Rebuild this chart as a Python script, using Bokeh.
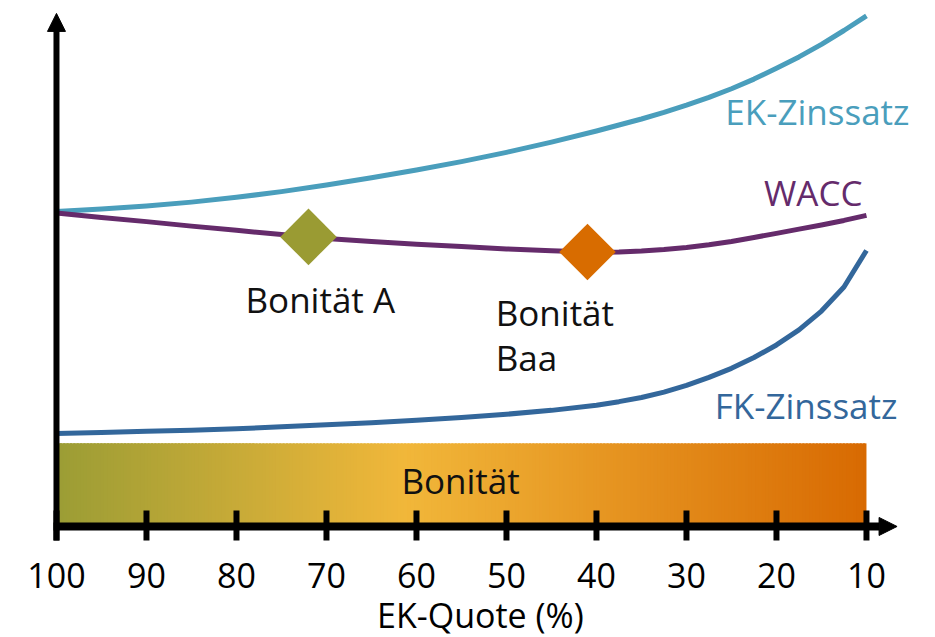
import numpy as np
from bokeh.plotting import figure
from bokeh.models import Range1d, Arrow, NormalHead
from bokeh.core.properties import value
from bokeh.embed import file_html
from bokeh.resources import INLINE

# ---------------- data ----------------
ek_quote = [100, 95, 90, 85, 80, 75, 70, 65, 60, 55, 50, 45, 40, 37.5, 35, 32.5, 30,
            27.5, 25, 22.5, 20, 17.5, 15, 12.5, 10]
ek_zinssatz = [10.5, 10.58, 10.68, 10.81, 10.97, 11.16, 11.38, 11.62, 11.88, 12.16, 12.47, 12.81,
               13.18, 13.38, 13.58, 13.8, 14.04, 14.3, 14.59, 14.91, 15.27, 15.65, 16.07, 16.53, 17.02]
wacc = [10.45, 10.3, 10.16, 10.01, 9.87, 9.73, 9.6, 9.5, 9.41, 9.33, 9.25, 9.19,
        9.14, 9.15, 9.18, 9.23, 9.3, 9.39, 9.5, 9.63, 9.77, 9.91, 10.05, 10.2, 10.37]
fk_zinssatz = [3.1, 3.13, 3.17, 3.21, 3.26, 3.32, 3.39, 3.46, 3.54, 3.63, 3.74, 3.87,
               4.04, 4.16, 4.3, 4.48, 4.7, 4.97, 5.27, 5.63, 6.05, 6.55, 7.18, 7.98, 9.2]

rating_quote = [72, 41]
rating_colors = ["#9a9b33", "#d86c00"]

tick_values = [100, 90, 80, 70, 60, 50, 40, 30, 20, 10]
tick_labels = ["100", "90", "80", "70", "60", "50", "40", "30", "20", "10"]
x_title = "EK-Quote (%)"

bar_stops = [(0.0, "#9b9d35"), (0.43, "#f1b73a"), (1.0, "#d86a02")]

# ---------------- styling ----------------
FONT = value("Open Sans")
FS = "35px"
TXT_OFF = -13
C_EK = "#4a9ebc"
C_WACC = "#652b6b"
C_FK = "#33679b"

p = figure(width=935, height=637, output_backend="svg", toolbar_location=None,
           x_range=Range1d(106.22, 2.33), y_range=Range1d(-3.7, 17.53),
           x_axis_type=None, y_axis_type=None, min_border=0,
           outline_line_color=None, background_fill_color="white",
           border_fill_color="white")
p.grid.visible = False


def label(x, y, txt, color="#111111", align="left", size=FS):
    p.text(x=x, y=y, text=txt, text_font=FONT, text_font_size=size, text_color=color,
           text_align=align, text_baseline="alphabetic", y_offset=TXT_OFF)


# gradient "Bonität" bar
def hex2rgb(h):
    return np.array([int(h[i:i + 2], 16) for i in (1, 3, 5)], dtype=float)


def grad(t):
    for (t0, c0), (t1, c1) in zip(bar_stops[:-1], bar_stops[1:]):
        if t <= t1:
            f = (t - t0) / (t1 - t0)
            c = hex2rgb(c0) * (1 - f) + hex2rgb(c1) * f
            return "#%02x%02x%02x" % tuple(int(round(v)) for v in c)
    return bar_stops[-1][1]


x_lo, x_hi = tick_values[0], tick_values[-1]
n = 240
edges = np.linspace(x_lo, x_hi, n + 1)
step = (x_hi - x_lo) / n
lefts = edges[:-1]
rights = np.append(edges[1:-1] + step * 0.6, edges[-1])
cols = [grad((i + 0.5) / n) for i in range(n)]
bar_top = 2.77
p.quad(left=lefts, right=rights, bottom=0, top=bar_top, fill_color=cols, line_color=None)
label([(x_lo + x_hi) / 2 + 0.1], [1.1], ["Bonität"], align="center")

# curves
p.line(ek_quote, ek_zinssatz, line_color=C_EK, line_width=5, line_join="round")
p.line(ek_quote, wacc, line_color=C_WACC, line_width=5, line_join="round")
p.line(ek_quote, fk_zinssatz, line_color=C_FK, line_width=5, line_join="round")

# rating markers on WACC curve
rating_y = np.interp(rating_quote, ek_quote[::-1], wacc[::-1])
p.scatter(x=rating_quote, y=rating_y, marker="square", size=40, angle=np.pi / 4,
          fill_color=rating_colors, line_color=None)

# curve labels
label([5.22], [13.4], ["EK-Zinssatz"], color=C_EK, align="right")
label([10.44], [10.7], ["WACC"], color=C_WACC, align="right")
label([6.56], [3.6], ["FK-Zinssatz"], color=C_FK, align="right")

# rating labels
label([79.0], [7.13], ["Bonität A"])
label([51.2, 51.2], [6.7, 5.2], ["Bonität", "Baa"])

# axes (drawn with arrows)
p.segment(x0=[100.33], y0=[0], x1=[8.6], y1=[0], line_color="black", line_width=8)
p.segment(x0=[100], y0=[-0.47], x1=[100], y1=[16.6], line_color="black", line_width=6)
p.segment(x0=tick_values, y0=0.533, x1=tick_values, y1=-0.467, line_color="black", line_width=6)
p.add_layout(Arrow(end=NormalHead(size=18, fill_color="black", line_color="black", line_width=1),
                   x_start=9.5, y_start=0, x_end=6.6, y_end=0, line_alpha=0))
p.add_layout(Arrow(end=NormalHead(size=18, fill_color="black", line_color="black", line_width=1),
                   x_start=100, y_start=16.0, x_end=100, y_end=17.1, line_alpha=0))

# tick labels and axis title
label(tick_values, [-2.07] * len(tick_values), tick_labels, color="black", align="center", size="34px")
label([52.9], [-3.4], [x_title], color="black", align="center", size="34px")

open("out.html", "w").write(file_html(p, INLINE))
